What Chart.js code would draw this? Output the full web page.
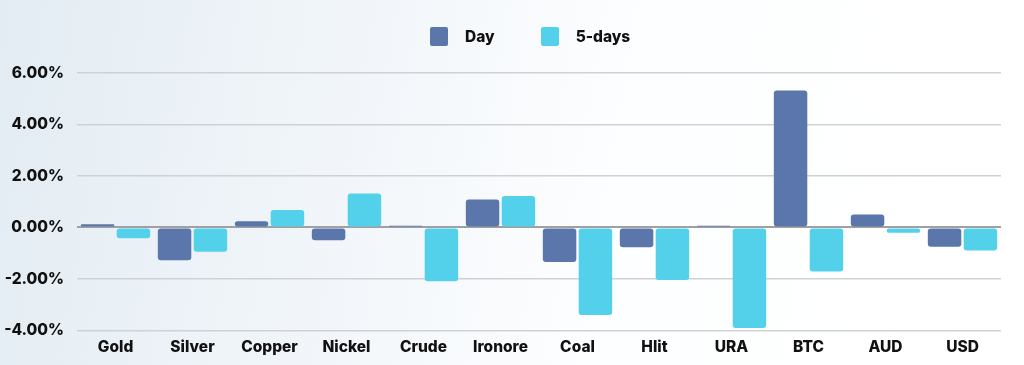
<!DOCTYPE html>
<html lang="en">
    <head>
        <meta charset="UTF-8">
        <title>Day vs 5-days</title>
        <style>
            body {
                margin: 0;
                width: 1024px;
                height: 365px;
                overflow: hidden;
                background: linear-gradient(100deg, #e3ecf3 0%, #f2f6fa 35%, #fdfeff 60%, #ffffff 100%);
                font-family: Inter, "Open Sans", sans-serif;
            }

            #chart-container {
                position: absolute;
                top: 0;
                left: 0;
                width: 1024px;
                height: 365px;
            }

            #legend {
                position: absolute;
                top: 27px;
                left: 430px;
                display: flex;
                align-items: center;
                font-size: 15.5px;
                font-weight: 800;
                color: #111;
            }

            .item { display: flex; align-items: center; margin-right: 46px; }
            .swatch { width: 18px; height: 19px; border-radius: 2px; margin-right: 17px; }
        </style>
    </head>
    <body>
        <div id="chart-container">
            <canvas id="myChart" width="1024" height="365"></canvas>
        </div>
        <div id="legend"></div>

        <script src="https://cdn.jsdelivr.net/npm/chart.js"></script>
        <script>
            // data
            let categories = ['Gold', 'Silver', 'Copper', 'Nickel', 'Crude', 'Ironore', 'Coal', 'Hlit', 'URA', 'BTC', 'AUD', 'USD'];
            let seriesNames = ['Day', '5-days'];
            let dayValues = [0.12, -1.27, 0.24, -0.50, 0.07, 1.09, -1.34, -0.77, 0.07, 5.32, 0.50, -0.75];
            let fiveDayValues = [-0.42, -0.94, 0.68, 1.32, -2.09, 1.22, -3.40, -2.04, -3.91, -1.71, -0.21, -0.90];
            let yTicks = [-4, -2, 0, 2, 4, 6];

            let colors = ['#5a76aa', '#54d1ea'];

            // html legend
            let legend = document.getElementById('legend');
            seriesNames.forEach((name, i) => {
                let item = document.createElement('div');
                item.className = 'item';
                let sw = document.createElement('span');
                sw.className = 'swatch';
                sw.style.background = colors[i];
                let txt = document.createElement('span');
                txt.textContent = name;
                item.appendChild(sw);
                item.appendChild(txt);
                legend.appendChild(item);
            });

            Chart.defaults.font.family = 'Inter, "Open Sans", sans-serif';
            Chart.defaults.font.weight = 800;
            Chart.defaults.font.size = 15.5;
            Chart.defaults.color = '#111';

            const data = {
                labels: categories,
                datasets: [dayValues, fiveDayValues].map((vals, i) => ({
                    label: seriesNames[i],
                    data: vals,
                    backgroundColor: colors[i],
                    borderWidth: 0,
                    borderRadius: 3,
                    borderSkipped: false,
                    categoryPercentage: 0.932,
                    barPercentage: 0.933
                }))
            };

            const config = {
                type: 'bar',
                data,
                options: {
                    responsive: false,
                    animation: false,
                    layout: {
                        padding: { top: 73, right: 23, bottom: 0, left: 0 }
                    },
                    scales: {
                        y: {
                            min: yTicks[0],
                            max: yTicks[yTicks.length - 1],
                            afterBuildTicks: (s) => { s.ticks = yTicks.map(v => ({ value: v })); },
                            afterFit: (s) => { s.width = 77; },
                            border: { display: false },
                            grid: {
                                drawTicks: false,
                                color: (c) => c.tick && c.tick.value === 0 ? '#a0a0a0' : '#cfd1d4',
                                lineWidth: (c) => c.tick && c.tick.value === 0 ? 2 : 1.5
                            },
                            ticks: {
                                padding: 13,
                                callback: (v) => v.toFixed(2) + '%'
                            }
                        },
                        x: {
                            border: { display: false },
                            grid: { display: false, drawTicks: false },
                            ticks: { padding: 8, maxRotation: 0 }
                        }
                    },
                    plugins: {
                        legend: { display: false },
                        tooltip: { enabled: false }
                    }
                }
            };

            const myChart = new Chart(document.getElementById('myChart'), config);
        </script>
    </body>
</html>
